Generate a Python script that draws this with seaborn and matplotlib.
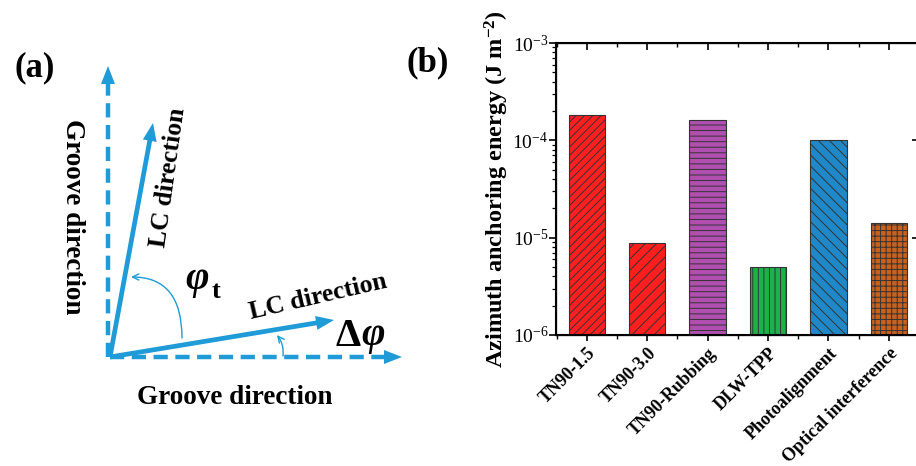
import numpy as np
import matplotlib
matplotlib.use('Agg')
import matplotlib.pyplot as plt
import seaborn as sns

# panel (b) data
methods = ['TN90-1.5', 'TN90-3.0', 'TN90-Rubbing', 'DLW-TPP',
           'Photoalignment', 'Optical interference']
energy = [1.82e-4, 8.8e-6, 1.62e-4, 5.0e-6, 1.0e-4, 1.42e-5]
bar_colors = ['#ff1f1f', '#ff1f1f', '#b04fb0', '#1db14a', '#1e88c8', '#c8601e']
bar_hatches = ['////', '///', '---', '|||', '\\\\\\', '+++']

# panel (a) schematic, in pixel units of the figure
BLUE = '#1f9bd7'
origin = (110, 357)
groove_tips = [(108, 66), (402, 357)]
lc_tips = [(153, 123), (334, 320)]

sns.set_style('ticks')
plt.rcParams['font.family'] = ['Liberation Serif', 'DejaVu Serif']
plt.rcParams['mathtext.fontset'] = 'custom'
plt.rcParams['mathtext.rm'] = 'Liberation Serif'
plt.rcParams['mathtext.it'] = 'Liberation Serif:italic'
plt.rcParams['mathtext.bf'] = 'Liberation Serif:bold'
plt.rcParams['hatch.linewidth'] = 0.7
for k in ['text.color', 'axes.labelcolor', 'xtick.color', 'ytick.color',
          'axes.edgecolor']:
    plt.rcParams[k] = 'black'

fig = plt.figure(figsize=(9.16, 4.66), dpi=100)


def head(ax, tail, tip, length=18, width=14):
    tail = np.array(tail, float)
    tip = np.array(tip, float)
    d = tip - tail
    d /= np.linalg.norm(d)
    n = np.array([-d[1], d[0]])
    base = tip - d * length
    pts = np.array([tip, base + n * width / 2, base - n * width / 2])
    ax.fill(pts[:, 0], pts[:, 1], color=BLUE, lw=0, zorder=3)
    return base + d * 2


# ---------------- (a) ----------------
axa = fig.add_axes([0, 0, 470 / 916, 1])
axa.set_xlim(0, 470)
axa.set_ylim(466, 0)
axa.axis('off')

for tip in groove_tips:
    start = (tip[0], origin[1]) if tip[1] < origin[1] else origin
    end = head(axa, start, tip)
    axa.plot([start[0], end[0]], [start[1], end[1]], color=BLUE, lw=3.2,
             dashes=(3.2, 1.7), solid_capstyle='butt')

for tip in lc_tips:
    end = head(axa, origin, tip)
    axa.plot([origin[0], end[0]], [origin[1], end[1]], color=BLUE, lw=3.4,
             solid_capstyle='butt')

axa.annotate('', xy=(131, 277), xytext=(182, 338),
             arrowprops=dict(arrowstyle='->,head_length=0.45,head_width=0.22',
                             color=BLUE, lw=1.0,
                             connectionstyle='angle3,angleA=90,angleB=0',
                             shrinkA=0, shrinkB=0))
axa.annotate('', xy=(277, 335), xytext=(283, 356),
             arrowprops=dict(arrowstyle='->,head_length=0.45,head_width=0.22',
                             color=BLUE, lw=1.0,
                             connectionstyle='arc3,rad=0.2',
                             shrinkA=0, shrinkB=0))

bold = dict(fontweight='bold', ha='center', va='center')
axa.text(35, 68, '(a)', fontsize=25, **bold)
axa.text(72, 217, 'Groove direction', fontsize=19.5, rotation=-90, **bold)
axa.text(168, 177, 'LC direction', fontsize=18.5, rotation=82, **bold)
axa.text(318, 297, 'LC direction', fontsize=18.5, rotation=13, **bold)
axa.text(235, 397, 'Groove direction', fontsize=19.5, **bold)
axa.text(197, 280, '\u03c6', fontsize=29, fontstyle='italic', **bold)
axa.text(216, 291, 't', fontsize=19, **bold)
axa.text(348, 336, '\u0394', fontsize=29, **bold)
axa.text(373, 335, '\u03c6', fontsize=29, fontstyle='italic', **bold)

# ---------------- (b) ----------------
fig.text(428 / 916, 1 - 63 / 466, '(b)', fontsize=25, **bold)

ax = fig.add_axes([556 / 916, 1 - 335 / 466, 363 / 916, 292 / 466])
sns.barplot(x=methods, y=energy, hue=methods, palette=bar_colors,
            saturation=1, legend=False, width=0.6, edgecolor='#333333',
            linewidth=0.8, ax=ax)
for patch, h in zip(ax.patches, bar_hatches):
    patch.set_hatch(h)

ax.set_yscale('log')
ax.set_ylim(1e-6, 1e-3)
ax.set_xlim(-0.51, 5.49)
ax.set_xlabel('')
ax.set_ylabel('Azimuth anchoring energy (J m$^{\\mathbf{-2}}$)',
              fontsize=17.5, fontweight='bold', labelpad=1)
ax.set_xticks(range(len(methods)))
ax.set_xticklabels(methods, rotation=45, ha='right', rotation_mode='anchor',
                   fontsize=13, fontweight='bold')
ax.set_xticks(np.arange(-0.5, len(methods), 1), minor=True)
ax.tick_params(axis='y', which='major', labelsize=14, length=5, width=1.2,
               direction='out', pad=0.5)
ax.tick_params(axis='y', which='minor', length=3, width=0.9, direction='out')
ax.tick_params(axis='x', which='major', length=4, width=1.2, direction='out',
               pad=3)
ax.tick_params(axis='x', which='minor', length=3, width=1.0, direction='out')
for s in ax.spines.values():
    s.set_linewidth(1.5)

top = ax.twiny()
top.set_xlim(ax.get_xlim())
top.set_xticks(range(len(methods)))
top.set_xticks(np.arange(-0.5, len(methods), 1), minor=True)
top.tick_params(axis='x', which='major', direction='in', length=5, width=1.2,
                labeltop=False)
top.tick_params(axis='x', which='minor', direction='in', length=3, width=1.0)

right = ax.twinx()
right.set_yscale('log')
right.set_ylim(1e-6, 1e-3)
right.tick_params(axis='y', which='major', direction='in', length=5, width=1.2,
                  labelright=False)
right.tick_params(axis='y', which='minor', length=0)
right.spines['right'].set_visible(False)

fig.savefig('out.png', dpi=100)
